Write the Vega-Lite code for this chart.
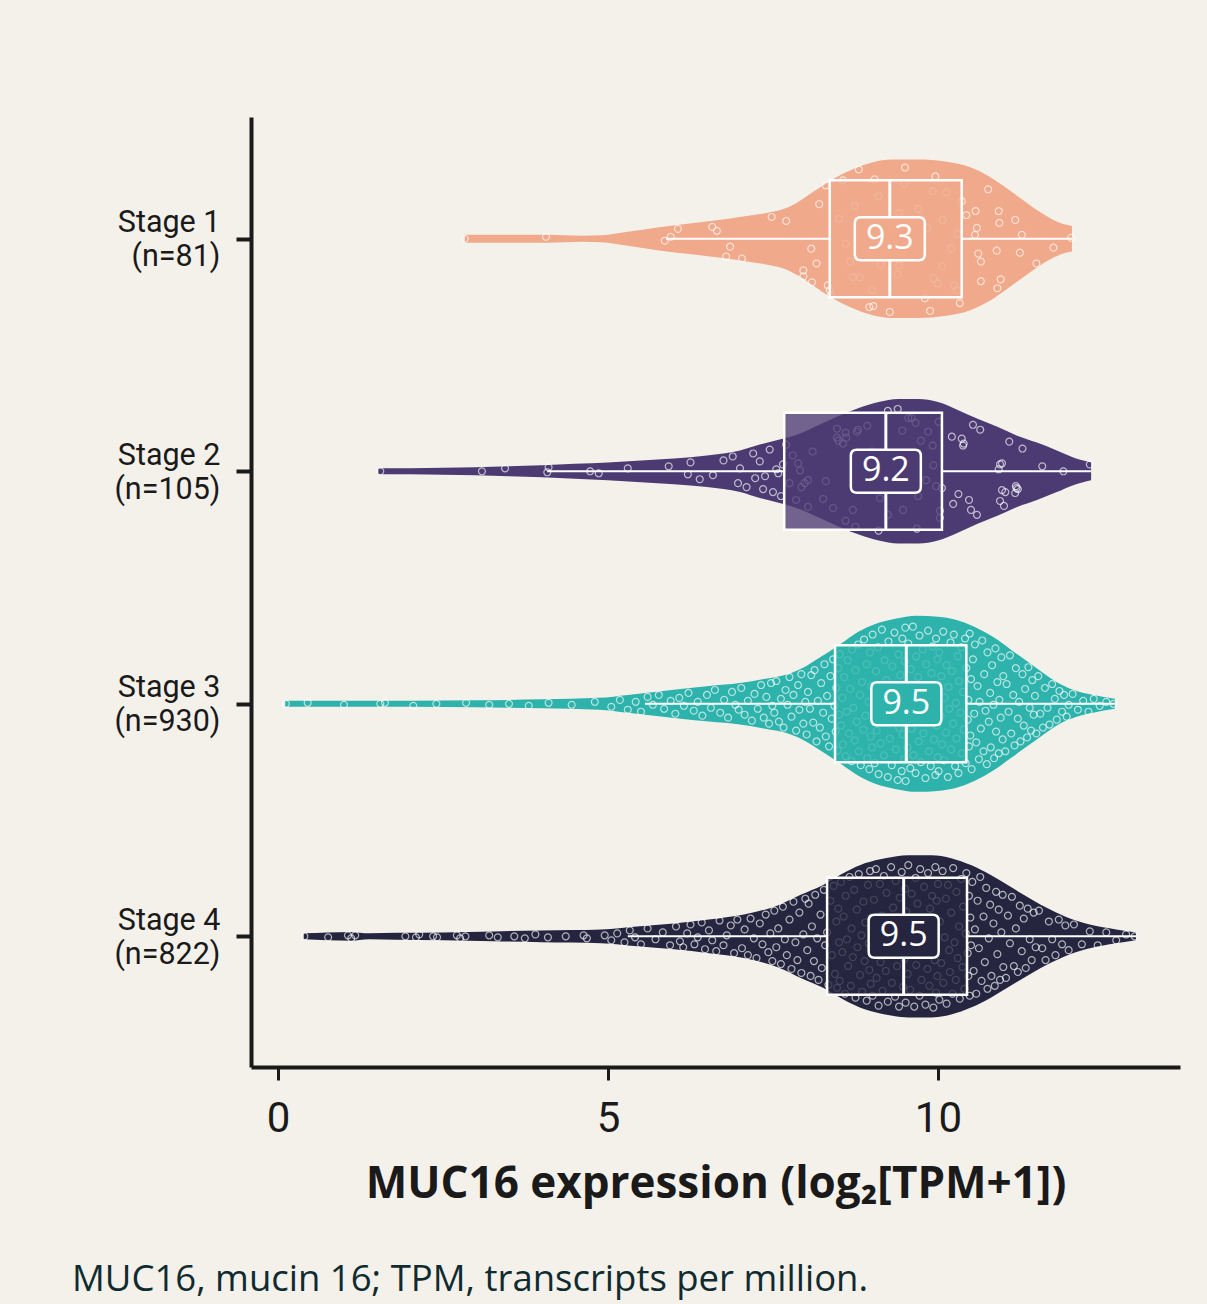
{
"$schema":"https://vega.github.io/schema/vega-lite/v6.json",
"width":929,"height":950,
"autosize":{"type":"none"},
"padding":{"left":251,"top":117,"right":27,"bottom":237},
"background":"#f4f1ea",
"config":{"view":{"stroke":null},"axis":{"grid":false}},
"title":{"text":"MUC16, mucin 16; TPM, transcripts per million.","orient":"bottom","anchor":"start","frame":"group","dx":-179,"offset":56,"font":"Open Sans","fontSize":36.5,"fontWeight":"normal","color":"#0f2b30","baseline":"top"},
"datasets":{
"violin":[
{"s":"Stage 1","x":2.83,"lo":-4,"hi":4},{"s":"Stage 1","x":3.5,"lo":-4,"hi":4},{"s":"Stage 1","x":4.1,"lo":-4,"hi":4},{"s":"Stage 1","x":4.6,"lo":-3,"hi":3},{"s":"Stage 1","x":4.9,"lo":-3.5,"hi":3.5},{"s":"Stage 1","x":5.3,"lo":-7,"hi":7},{"s":"Stage 1","x":5.8,"lo":-12,"hi":12},{"s":"Stage 1","x":6.3,"lo":-16,"hi":16},{"s":"Stage 1","x":6.8,"lo":-20,"hi":20},{"s":"Stage 1","x":7.1,"lo":-23,"hi":23},{"s":"Stage 1","x":7.4,"lo":-26,"hi":26},{"s":"Stage 1","x":7.7,"lo":-31,"hi":31},{"s":"Stage 1","x":7.9,"lo":-38,"hi":38},{"s":"Stage 1","x":8.1,"lo":-47,"hi":47},{"s":"Stage 1","x":8.4,"lo":-60,"hi":60},{"s":"Stage 1","x":8.7,"lo":-70,"hi":70},{"s":"Stage 1","x":9.0,"lo":-77,"hi":77},{"s":"Stage 1","x":9.3,"lo":-80,"hi":80},{"s":"Stage 1","x":9.7,"lo":-80,"hi":80},{"s":"Stage 1","x":10.1,"lo":-78,"hi":78},{"s":"Stage 1","x":10.5,"lo":-72,"hi":72},{"s":"Stage 1","x":10.75,"lo":-64,"hi":64},{"s":"Stage 1","x":11.0,"lo":-53,"hi":53},{"s":"Stage 1","x":11.25,"lo":-41,"hi":41},{"s":"Stage 1","x":11.5,"lo":-29,"hi":29},{"s":"Stage 1","x":11.75,"lo":-19,"hi":19},{"s":"Stage 1","x":11.9,"lo":-15,"hi":15},{"s":"Stage 1","x":12.03,"lo":-13,"hi":13},
{"s":"Stage 2","x":1.52,"lo":232,"hi":238},{"s":"Stage 2","x":2.0,"lo":232,"hi":238},{"s":"Stage 2","x":2.5,"lo":231.5,"hi":238.5},{"s":"Stage 2","x":3.0,"lo":231,"hi":239},{"s":"Stage 2","x":3.5,"lo":230,"hi":240},{"s":"Stage 2","x":4.0,"lo":229,"hi":241},{"s":"Stage 2","x":4.5,"lo":227.5,"hi":242.5},{"s":"Stage 2","x":5.0,"lo":226,"hi":244},{"s":"Stage 2","x":5.5,"lo":224,"hi":246},{"s":"Stage 2","x":6.0,"lo":222,"hi":248},{"s":"Stage 2","x":6.5,"lo":219,"hi":251},{"s":"Stage 2","x":7.0,"lo":214,"hi":256},{"s":"Stage 2","x":7.3,"lo":208,"hi":262},{"s":"Stage 2","x":7.6,"lo":203,"hi":267},{"s":"Stage 2","x":7.9,"lo":197,"hi":273},{"s":"Stage 2","x":8.2,"lo":188,"hi":282},{"s":"Stage 2","x":8.5,"lo":179,"hi":291},{"s":"Stage 2","x":8.8,"lo":171,"hi":299},{"s":"Stage 2","x":9.1,"lo":165,"hi":305},{"s":"Stage 2","x":9.4,"lo":162,"hi":308},{"s":"Stage 2","x":9.7,"lo":162,"hi":308},{"s":"Stage 2","x":10.0,"lo":165,"hi":305},{"s":"Stage 2","x":10.3,"lo":173,"hi":297},{"s":"Stage 2","x":10.6,"lo":182,"hi":288},{"s":"Stage 2","x":10.9,"lo":190,"hi":280},{"s":"Stage 2","x":11.2,"lo":199,"hi":271},{"s":"Stage 2","x":11.5,"lo":206,"hi":264},{"s":"Stage 2","x":11.8,"lo":214,"hi":256},{"s":"Stage 2","x":12.05,"lo":221,"hi":249},{"s":"Stage 2","x":12.32,"lo":226,"hi":244},
{"s":"Stage 3","x":0.11,"lo":467,"hi":473},{"s":"Stage 3","x":1.0,"lo":467,"hi":473},{"s":"Stage 3","x":2.0,"lo":467,"hi":473},{"s":"Stage 3","x":3.0,"lo":466.5,"hi":473.5},{"s":"Stage 3","x":4.0,"lo":465.5,"hi":474.5},{"s":"Stage 3","x":4.86,"lo":464,"hi":476},{"s":"Stage 3","x":5.3,"lo":461,"hi":479},{"s":"Stage 3","x":5.7,"lo":458,"hi":482},{"s":"Stage 3","x":6.1,"lo":455,"hi":485},{"s":"Stage 3","x":6.53,"lo":452,"hi":488},{"s":"Stage 3","x":7.0,"lo":449,"hi":491},{"s":"Stage 3","x":7.36,"lo":445,"hi":495},{"s":"Stage 3","x":7.77,"lo":439,"hi":501},{"s":"Stage 3","x":8.0,"lo":432,"hi":508},{"s":"Stage 3","x":8.19,"lo":424,"hi":516},{"s":"Stage 3","x":8.4,"lo":415,"hi":525},{"s":"Stage 3","x":8.6,"lo":406,"hi":534},{"s":"Stage 3","x":8.8,"lo":397,"hi":543},{"s":"Stage 3","x":9.02,"lo":390,"hi":550},{"s":"Stage 3","x":9.35,"lo":384,"hi":556},{"s":"Stage 3","x":9.68,"lo":381,"hi":559},{"s":"Stage 3","x":10.0,"lo":382,"hi":558},{"s":"Stage 3","x":10.27,"lo":385,"hi":555},{"s":"Stage 3","x":10.55,"lo":392,"hi":548},{"s":"Stage 3","x":10.85,"lo":403,"hi":537},{"s":"Stage 3","x":11.1,"lo":415,"hi":525},{"s":"Stage 3","x":11.35,"lo":427,"hi":513},{"s":"Stage 3","x":11.6,"lo":439,"hi":501},{"s":"Stage 3","x":11.85,"lo":450,"hi":490},{"s":"Stage 3","x":12.1,"lo":457,"hi":483},{"s":"Stage 3","x":12.35,"lo":461,"hi":479},{"s":"Stage 3","x":12.68,"lo":465,"hi":475},
{"s":"Stage 4","x":0.39,"lo":702,"hi":708},{"s":"Stage 4","x":0.75,"lo":701,"hi":709},{"s":"Stage 4","x":1.1,"lo":700.5,"hi":709.5},{"s":"Stage 4","x":1.38,"lo":702,"hi":708},{"s":"Stage 4","x":1.8,"lo":701.5,"hi":708.5},{"s":"Stage 4","x":2.5,"lo":701,"hi":709},{"s":"Stage 4","x":3.27,"lo":700,"hi":710},{"s":"Stage 4","x":4.0,"lo":699,"hi":711},{"s":"Stage 4","x":4.9,"lo":698,"hi":712},{"s":"Stage 4","x":5.44,"lo":695,"hi":715},{"s":"Stage 4","x":6.0,"lo":692,"hi":718},{"s":"Stage 4","x":6.53,"lo":688,"hi":722},{"s":"Stage 4","x":7.06,"lo":683,"hi":727},{"s":"Stage 4","x":7.6,"lo":673,"hi":737},{"s":"Stage 4","x":7.92,"lo":663,"hi":747},{"s":"Stage 4","x":8.26,"lo":653,"hi":757},{"s":"Stage 4","x":8.6,"lo":640,"hi":770},{"s":"Stage 4","x":8.9,"lo":631,"hi":779},{"s":"Stage 4","x":9.2,"lo":626,"hi":784},{"s":"Stage 4","x":9.55,"lo":623,"hi":787},{"s":"Stage 4","x":9.9,"lo":623,"hi":787},{"s":"Stage 4","x":10.2,"lo":626,"hi":784},{"s":"Stage 4","x":10.5,"lo":633,"hi":777},{"s":"Stage 4","x":10.8,"lo":643,"hi":767},{"s":"Stage 4","x":11.1,"lo":655,"hi":755},{"s":"Stage 4","x":11.4,"lo":667,"hi":743},{"s":"Stage 4","x":11.7,"lo":678,"hi":732},{"s":"Stage 4","x":12.0,"lo":687,"hi":723},{"s":"Stage 4","x":12.3,"lo":693,"hi":717},{"s":"Stage 4","x":12.7,"lo":698,"hi":712},{"s":"Stage 4","x":13.0,"lo":701,"hi":709}
],
"box":[
{"s":"Stage 1","c":0,"q1":8.36,"med":9.27,"q3":10.36,"wlo":5.88,"whi":12.03},
{"s":"Stage 2","c":235,"q1":7.67,"med":9.21,"q3":10.06,"wlo":4.08,"whi":12.32},
{"s":"Stage 3","c":470,"q1":8.44,"med":9.52,"q3":10.43,"wlo":5.56,"whi":12.68},
{"s":"Stage 4","c":705,"q1":8.32,"med":9.48,"q3":10.44,"wlo":5.3,"whi":13.0}
],
"pts":[
{"x":2.83,"y":0},{"x":4.06,"y":-2},{"x":5.86,"y":2},{"x":5.95,"y":-2},{"x":6.06,"y":-10},{"x":6.58,"y":-12},{"x":6.65,"y":-8},{"x":6.85,"y":8},{"x":6.79,"y":18},{"x":7.03,"y":20},{"x":7.48,"y":-22},{"x":7.7,"y":-18},{"x":8.08,"y":10},{"x":8.16,"y":25},{"x":7.96,"y":32},{"x":7.96,"y":38},{"x":8.09,"y":44},{"x":8.2,"y":-35},{"x":8.3,"y":-54},{"x":8.38,"y":57},{"x":8.33,"y":47},{"x":8.36,"y":52},{"x":8.56,"y":-59},{"x":8.8,"y":-70},{"x":9.04,"y":-60},{"x":8.74,"y":-33},{"x":9.1,"y":-43},{"x":8.67,"y":23},{"x":8.71,"y":39},{"x":8.81,"y":39},{"x":9.0,"y":52},{"x":8.96,"y":69},{"x":9.02,"y":68},{"x":9.27,"y":74},{"x":9.5,"y":-72},{"x":9.49,"y":-56},{"x":9.41,"y":-26},{"x":9.41,"y":27},{"x":9.39,"y":36},{"x":9.13,"y":26},{"x":9.84,"y":-11},{"x":9.96,"y":-63},{"x":9.92,"y":-48},{"x":10.13,"y":-47},{"x":10.07,"y":-19},{"x":10.06,"y":28},{"x":9.93,"y":40},{"x":9.88,"y":73},{"x":10.24,"y":47},{"x":10.29,"y":52},{"x":10.33,"y":65},{"x":10.36,"y":-38},{"x":10.43,"y":-24},{"x":10.57,"y":-28},{"x":10.59,"y":-11},{"x":10.56,"y":-4},{"x":10.61,"y":15},{"x":10.65,"y":23},{"x":10.65,"y":43},{"x":10.76,"y":-50},{"x":10.92,"y":-28},{"x":10.93,"y":-16},{"x":10.89,"y":12},{"x":10.95,"y":41},{"x":10.9,"y":50},{"x":11.17,"y":-19},{"x":11.27,"y":-4},{"x":11.24,"y":14},{"x":11.49,"y":25},{"x":11.75,"y":9},{"x":12.02,"y":-1},{"x":9.6,"y":5},{"x":8.9,"y":-10},{"x":9.7,"y":-30},{"x":10.2,"y":10},{"x":9.2,"y":-15},{"x":8.6,"y":5},{"x":10.0,"y":45},{"x":9.3,"y":20},{"x":8.5,"y":-20},{"x":9.8,"y":60},{"x":10.3,"y":-5},
{"x":1.55,"y":235},{"x":3.09,"y":235},{"x":3.44,"y":232},{"x":4.08,"y":236},{"x":4.1,"y":231},{"x":4.73,"y":235},{"x":4.86,"y":237},{"x":5.3,"y":232},{"x":5.92,"y":230},{"x":6.21,"y":238},{"x":6.25,"y":226},{"x":6.39,"y":243},{"x":6.59,"y":239},{"x":6.75,"y":224},{"x":6.89,"y":220},{"x":6.97,"y":247},{"x":7.0,"y":232},{"x":7.1,"y":251},{"x":7.2,"y":217},{"x":7.23,"y":242},{"x":7.3,"y":225},{"x":7.45,"y":213},{"x":7.5,"y":256},{"x":7.55,"y":233},{"x":7.62,"y":260},{"x":7.7,"y":208},{"x":7.75,"y":247},{"x":7.8,"y":219},{"x":7.85,"y":264},{"x":7.88,"y":227},
{"x":7.38,"y":240},{"x":7.35,"y":253},{"x":7.58,"y":237},{"x":7.65,"y":228},{"x":7.91,"y":234},{"x":7.93,"y":251},{"x":7.98,"y":247},{"x":8.03,"y":244},{"x":8.03,"y":271},{"x":8.26,"y":263},{"x":8.41,"y":272},{"x":8.47,"y":192},{"x":8.6,"y":196},{"x":8.61,"y":201},{"x":8.47,"y":201},{"x":8.49,"y":204},{"x":8.56,"y":207},{"x":8.71,"y":274},{"x":8.77,"y":195},{"x":8.79,"y":193},{"x":8.75,"y":291},{"x":8.93,"y":189},{"x":9.12,"y":262},{"x":9.24,"y":174},{"x":9.39,"y":172},{"x":9.24,"y":279},{"x":9.46,"y":194},{"x":9.47,"y":274},{"x":9.55,"y":181},{"x":9.6,"y":181},{"x":9.66,"y":186},{"x":9.68,"y":293},{"x":9.74,"y":204},{"x":9.82,"y":244},{"x":9.92,"y":209},{"x":9.93,"y":229},{"x":9.97,"y":250},{"x":10.01,"y":185},{"x":10.06,"y":252},{"x":10.03,"y":275},{"x":10.03,"y":282},{"x":10.21,"y":200},{"x":10.36,"y":202},{"x":10.39,"y":207},{"x":10.38,"y":209},{"x":10.23,"y":268},{"x":10.31,"y":258},{"x":10.47,"y":264},{"x":10.5,"y":274},{"x":10.59,"y":279},{"x":10.53,"y":188},{"x":10.64,"y":193},{"x":10.94,"y":228},{"x":10.97,"y":227},{"x":10.92,"y":233},{"x":10.97,"y":254},{"x":11.02,"y":256},{"x":10.94,"y":265},{"x":11.0,"y":270},{"x":11.08,"y":205},{"x":11.28,"y":212},{"x":11.18,"y":250},{"x":11.21,"y":253},{"x":11.17,"y":257},{"x":11.19,"y":252},{"x":11.58,"y":230},{"x":11.9,"y":235},{"x":12.3,"y":228},{"x":8.1,"y":215},{"x":8.3,"y":245},{"x":8.9,"y":235},{"x":9.0,"y":215},{"x":9.3,"y":250},{"x":9.5,"y":225},{"x":9.7,"y":260},{"x":8.6,"y":285},{"x":9.1,"y":295},{"x":9.85,"y":195},
{"x":0.12,"y":470},{"x":0.45,"y":469},{"x":1.0,"y":471},{"x":1.55,"y":470},{"x":1.62,"y":469},{"x":2.05,"y":472},{"x":2.4,"y":470},{"x":2.85,"y":469},{"x":3.2,"y":471},{"x":3.5,"y":470},{"x":3.8,"y":472},{"x":4.1,"y":469},{"x":4.45,"y":471},{"x":4.8,"y":468},
{"x":5.05,"y":473},{"x":5.18,"y":466},{"x":5.3,"y":476},{"x":5.42,"y":468},{"x":5.5,"y":478},{"x":5.6,"y":463},{"x":5.68,"y":471},{"x":5.77,"y":461},{"x":5.85,"y":475},{"x":5.95,"y":467},
{"x":6.02,"y":480},{"x":6.08,"y":464},{"x":6.15,"y":472},{"x":6.22,"y":459},{"x":6.3,"y":477},{"x":6.36,"y":468},{"x":6.43,"y":482},{"x":6.5,"y":461},{"x":6.56,"y":474},{"x":6.62,"y":456},{"x":6.7,"y":479},{"x":6.76,"y":466},{"x":6.82,"y":484},{"x":6.88,"y":458},{"x":6.93,"y":471},{"x":6.98,"y":476},
{"x":7.02,"y":454},{"x":7.07,"y":481},{"x":7.12,"y":467},{"x":7.18,"y":487},{"x":7.22,"y":460},{"x":7.27,"y":475},{"x":7.32,"y":451},{"x":7.36,"y":484},{"x":7.4,"y":463},{"x":7.44,"y":490},{"x":7.47,"y":449},{"x":7.49,"y":472},
{"x":7.52,"y":479},{"x":7.55,"y":447},{"x":7.59,"y":488},{"x":7.62,"y":465},{"x":7.66,"y":494},{"x":7.69,"y":456},{"x":7.72,"y":471},{"x":7.75,"y":443},{"x":7.78,"y":483},{"x":7.81,"y":461},{"x":7.85,"y":497},{"x":7.88,"y":451},{"x":7.9,"y":476},{"x":7.93,"y":440},{"x":7.96,"y":490},{"x":7.99,"y":468},
{"x":8.01,"y":501},{"x":8.03,"y":458},{"x":8.06,"y":475},{"x":8.08,"y":441},{"x":8.11,"y":489},{"x":8.13,"y":436},{"x":8.16,"y":508},{"x":8.18,"y":467},{"x":8.21,"y":494},{"x":8.23,"y":449},{"x":8.26,"y":479},{"x":8.28,"y":430},{"x":8.3,"y":503},{"x":8.32,"y":462},{"x":8.35,"y":513},{"x":8.37,"y":442},{"x":8.39,"y":485},{"x":8.41,"y":425},{"x":8.43,"y":472},{"x":8.45,"y":498},{"x":8.46,"y":454},{"x":8.48,"y":517},{"x":8.49,"y":434},{"x":8.5,"y":481},
{"x":8.51,"y":420},{"x":8.53,"y":492},{"x":8.55,"y":464},{"x":8.56,"y":511},{"x":8.58,"y":443},{"x":8.6,"y":523},{"x":8.62,"y":478},{"x":8.63,"y":426},{"x":8.65,"y":500},{"x":8.67,"y":455},{"x":8.69,"y":528},{"x":8.7,"y":415},{"x":8.72,"y":474},{"x":8.74,"y":507},{"x":8.75,"y":436},{"x":8.77,"y":488},{"x":8.79,"y":410},{"x":8.8,"y":518},{"x":8.82,"y":461},{"x":8.83,"y":532},{"x":8.85,"y":448},{"x":8.87,"y":496},{"x":8.88,"y":405},{"x":8.9,"y":482},{"x":8.92,"y":430},{"x":8.93,"y":525},{"x":8.95,"y":468},{"x":8.96,"y":536},{"x":8.97,"y":418},{"x":8.98,"y":503},{"x":8.99,"y":452},{"x":9.0,"y":514},
{"x":9.01,"y":400},{"x":9.03,"y":480},{"x":9.04,"y":530},{"x":9.06,"y":437},{"x":9.07,"y":497},{"x":9.09,"y":413},{"x":9.1,"y":541},{"x":9.12,"y":458},{"x":9.13,"y":510},{"x":9.15,"y":395},{"x":9.16,"y":473},{"x":9.18,"y":522},{"x":9.19,"y":426},{"x":9.21,"y":489},{"x":9.22,"y":446},{"x":9.24,"y":544},{"x":9.25,"y":407},{"x":9.27,"y":505},{"x":9.28,"y":465},{"x":9.3,"y":532},{"x":9.31,"y":432},{"x":9.33,"y":483},{"x":9.34,"y":398},{"x":9.36,"y":516},{"x":9.37,"y":453},{"x":9.39,"y":547},{"x":9.4,"y":420},{"x":9.41,"y":494},{"x":9.43,"y":441},{"x":9.44,"y":476},{"x":9.45,"y":538},{"x":9.46,"y":404},{"x":9.47,"y":501},{"x":9.48,"y":461},{"x":9.49,"y":526},{"x":9.5,"y":427},{"x":9.495,"y":486},{"x":9.505,"y":393},
{"x":9.51,"y":548},{"x":9.52,"y":450},{"x":9.54,"y":514},{"x":9.55,"y":409},{"x":9.56,"y":477},{"x":9.58,"y":535},{"x":9.59,"y":435},{"x":9.6,"y":495},{"x":9.62,"y":392},{"x":9.63,"y":522},{"x":9.64,"y":462},{"x":9.66,"y":540},{"x":9.67,"y":422},{"x":9.68,"y":484},{"x":9.7,"y":443},{"x":9.71,"y":508},{"x":9.72,"y":401},{"x":9.74,"y":529},{"x":9.75,"y":471},{"x":9.77,"y":415},{"x":9.78,"y":500},{"x":9.79,"y":456},{"x":9.81,"y":545},{"x":9.82,"y":430},{"x":9.83,"y":489},{"x":9.85,"y":396},{"x":9.86,"y":518},{"x":9.87,"y":467},{"x":9.89,"y":533},{"x":9.9,"y":439},{"x":9.91,"y":479},{"x":9.92,"y":412},{"x":9.94,"y":506},{"x":9.95,"y":451},{"x":9.96,"y":542},{"x":9.97,"y":404},{"x":9.98,"y":492},{"x":9.99,"y":425},{"x":9.995,"y":524},{"x":10.0,"y":460},
{"x":10.01,"y":538},{"x":10.02,"y":418},{"x":10.04,"y":482},{"x":10.05,"y":442},{"x":10.06,"y":511},{"x":10.08,"y":397},{"x":10.09,"y":527},{"x":10.1,"y":464},{"x":10.12,"y":499},{"x":10.13,"y":431},{"x":10.15,"y":544},{"x":10.16,"y":453},{"x":10.17,"y":475},{"x":10.19,"y":408},{"x":10.2,"y":516},{"x":10.21,"y":437},{"x":10.23,"y":490},{"x":10.24,"y":400},{"x":10.26,"y":533},{"x":10.27,"y":469},{"x":10.28,"y":505},{"x":10.3,"y":422},{"x":10.31,"y":540},{"x":10.32,"y":447},{"x":10.34,"y":479},{"x":10.35,"y":413},{"x":10.36,"y":520},{"x":10.38,"y":458},{"x":10.39,"y":496},{"x":10.41,"y":404},{"x":10.42,"y":530},{"x":10.43,"y":434},{"x":10.45,"y":486},{"x":10.46,"y":466},{"x":10.47,"y":513},{"x":10.48,"y":399},{"x":10.49,"y":502},{"x":10.5,"y":445},
{"x":10.51,"y":536},{"x":10.53,"y":425},{"x":10.55,"y":480},{"x":10.56,"y":410},{"x":10.58,"y":509},{"x":10.6,"y":452},{"x":10.62,"y":526},{"x":10.63,"y":468},{"x":10.65,"y":495},{"x":10.67,"y":406},{"x":10.69,"y":518},{"x":10.7,"y":440},{"x":10.72,"y":477},{"x":10.74,"y":531},{"x":10.75,"y":418},{"x":10.77,"y":488},{"x":10.79,"y":459},{"x":10.8,"y":514},{"x":10.82,"y":431},{"x":10.84,"y":471},{"x":10.85,"y":525},{"x":10.87,"y":414},{"x":10.88,"y":498},{"x":10.9,"y":448},{"x":10.92,"y":520},{"x":10.93,"y":466},{"x":10.95,"y":484},{"x":10.96,"y":423},{"x":10.98,"y":506},{"x":10.99,"y":442},
{"x":11.02,"y":518},{"x":11.04,"y":450},{"x":11.07,"y":478},{"x":11.09,"y":421},{"x":11.11,"y":500},{"x":11.14,"y":461},{"x":11.16,"y":512},{"x":11.18,"y":434},{"x":11.21,"y":485},{"x":11.23,"y":468},{"x":11.25,"y":508},{"x":11.28,"y":440},{"x":11.3,"y":492},{"x":11.32,"y":455},{"x":11.35,"y":504},{"x":11.37,"y":433},{"x":11.39,"y":474},{"x":11.41,"y":497},{"x":11.43,"y":446},{"x":11.45,"y":481},{"x":11.47,"y":462},{"x":11.49,"y":500},
{"x":11.52,"y":442},{"x":11.55,"y":480},{"x":11.59,"y":494},{"x":11.62,"y":454},{"x":11.66,"y":474},{"x":11.69,"y":491},{"x":11.73,"y":450},{"x":11.77,"y":465},{"x":11.8,"y":486},{"x":11.84,"y":457},{"x":11.88,"y":478},{"x":11.91,"y":461},{"x":11.95,"y":483},{"x":11.98,"y":471},
{"x":12.04,"y":460},{"x":12.12,"y":476},{"x":12.2,"y":467},{"x":12.28,"y":478},{"x":12.36,"y":465},{"x":12.45,"y":472},{"x":12.55,"y":468},{"x":12.66,"y":470},
{"x":0.4,"y":705},{"x":0.76,"y":706},{"x":1.06,"y":704},{"x":1.11,"y":707},{"x":1.17,"y":704},{"x":1.93,"y":705},{"x":2.09,"y":706},{"x":2.14,"y":703},{"x":2.35,"y":705},{"x":2.41,"y":706},{"x":2.71,"y":704},{"x":2.76,"y":707},{"x":2.84,"y":705},{"x":3.2,"y":704},{"x":3.33,"y":706},{"x":3.58,"y":705},{"x":3.74,"y":707},{"x":3.9,"y":703},{"x":4.09,"y":706},{"x":4.36,"y":705},{"x":4.63,"y":704},{"x":4.68,"y":707},{"x":4.95,"y":704},
{"x":5.05,"y":709},{"x":5.14,"y":702},{"x":5.25,"y":711},{"x":5.33,"y":699},{"x":5.41,"y":706},{"x":5.5,"y":713},{"x":5.6,"y":697},{"x":5.72,"y":708},{"x":5.83,"y":701},{"x":5.94,"y":714},
{"x":6.03,"y":695},{"x":6.09,"y":710},{"x":6.14,"y":716},{"x":6.2,"y":702},{"x":6.25,"y":693},{"x":6.31,"y":713},{"x":6.36,"y":706},{"x":6.42,"y":691},{"x":6.47,"y":718},{"x":6.53,"y":699},{"x":6.58,"y":709},{"x":6.64,"y":720},{"x":6.69,"y":689},{"x":6.75,"y":714},{"x":6.8,"y":704},{"x":6.86,"y":694},{"x":6.91,"y":722},{"x":6.96,"y":688},
{"x":7.03,"y":717},{"x":7.07,"y":698},{"x":7.12,"y":724},{"x":7.16,"y":687},{"x":7.21,"y":707},{"x":7.25,"y":727},{"x":7.3,"y":692},{"x":7.34,"y":713},{"x":7.39,"y":683},{"x":7.43,"y":721},{"x":7.46,"y":702},{"x":7.49,"y":730},
{"x":7.52,"y":679},{"x":7.55,"y":716},{"x":7.58,"y":697},{"x":7.62,"y":733},{"x":7.65,"y":675},{"x":7.68,"y":708},{"x":7.71,"y":724},{"x":7.75,"y":688},{"x":7.78,"y":738},{"x":7.81,"y":670},{"x":7.84,"y":711},{"x":7.87,"y":729},{"x":7.9,"y":681},{"x":7.93,"y":742},{"x":7.96,"y":703},{"x":7.99,"y":667},
{"x":8.02,"y":719},{"x":8.04,"y":672},{"x":8.07,"y":745},{"x":8.09,"y":695},{"x":8.12,"y":730},{"x":8.14,"y":663},{"x":8.17,"y":707},{"x":8.19,"y":749},{"x":8.22,"y":683},{"x":8.24,"y":737},{"x":8.27,"y":658},{"x":8.29,"y":714},{"x":8.32,"y":701},{"x":8.34,"y":754},{"x":8.37,"y":669},{"x":8.39,"y":724},{"x":8.42,"y":654},{"x":8.44,"y":743},{"x":8.46,"y":690},{"x":8.47,"y":757},{"x":8.49,"y":677},{"x":8.5,"y":711},
{"x":8.51,"y":750},{"x":8.53,"y":650},{"x":8.55,"y":721},{"x":8.57,"y":685},{"x":8.59,"y":763},{"x":8.6,"y":664},{"x":8.62,"y":708},{"x":8.64,"y":735},{"x":8.66,"y":645},{"x":8.68,"y":755},{"x":8.69,"y":697},{"x":8.71,"y":726},{"x":8.73,"y":658},{"x":8.75,"y":767},{"x":8.77,"y":678},{"x":8.78,"y":716},{"x":8.8,"y":642},{"x":8.82,"y":744},{"x":8.84,"y":704},{"x":8.85,"y":761},{"x":8.87,"y":670},{"x":8.89,"y":730},{"x":8.9,"y":691},{"x":8.92,"y":770},{"x":8.94,"y":653},{"x":8.95,"y":712},{"x":8.96,"y":739},{"x":8.97,"y":639},{"x":8.98,"y":753},{"x":8.99,"y":686},
{"x":9.01,"y":765},{"x":9.03,"y":668},{"x":9.04,"y":720},{"x":9.06,"y":637},{"x":9.07,"y":747},{"x":9.09,"y":701},{"x":9.1,"y":775},{"x":9.12,"y":652},{"x":9.13,"y":731},{"x":9.15,"y":684},{"x":9.16,"y":760},{"x":9.18,"y":644},{"x":9.19,"y":713},{"x":9.21,"y":740},{"x":9.22,"y":661},{"x":9.24,"y":771},{"x":9.26,"y":694},{"x":9.27,"y":724},{"x":9.29,"y":635},{"x":9.3,"y":752},{"x":9.32,"y":676},{"x":9.33,"y":707},{"x":9.35,"y":766},{"x":9.36,"y":649},{"x":9.38,"y":735},{"x":9.39,"y":689},{"x":9.41,"y":776},{"x":9.42,"y":666},{"x":9.44,"y":717},{"x":9.45,"y":640},{"x":9.47,"y":756},{"x":9.48,"y":698},{"x":9.49,"y":728},{"x":9.5,"y":657},
{"x":9.51,"y":772},{"x":9.52,"y":680},{"x":9.54,"y":743},{"x":9.55,"y":633},{"x":9.57,"y":710},{"x":9.58,"y":759},{"x":9.6,"y":662},{"x":9.61,"y":723},{"x":9.63,"y":693},{"x":9.64,"y":776},{"x":9.66,"y":646},{"x":9.67,"y":734},{"x":9.69,"y":672},{"x":9.7,"y":705},{"x":9.72,"y":765},{"x":9.73,"y":637},{"x":9.75,"y":749},{"x":9.76,"y":687},{"x":9.78,"y":718},{"x":9.79,"y":655},{"x":9.81,"y":774},{"x":9.82,"y":701},{"x":9.84,"y":738},{"x":9.85,"y":641},{"x":9.87,"y":755},{"x":9.88,"y":677},{"x":9.9,"y":714},{"x":9.91,"y":664},{"x":9.93,"y":777},{"x":9.94,"y":696},{"x":9.95,"y":729},{"x":9.96,"y":635},{"x":9.97,"y":762},{"x":9.98,"y":669},{"x":9.99,"y":745},{"x":10.0,"y":652},
{"x":10.02,"y":769},{"x":10.03,"y":690},{"x":10.05,"y":732},{"x":10.07,"y":639},{"x":10.08,"y":752},{"x":10.1,"y":706},{"x":10.12,"y":667},{"x":10.13,"y":773},{"x":10.15,"y":653},{"x":10.17,"y":719},{"x":10.18,"y":741},{"x":10.2,"y":681},{"x":10.22,"y":763},{"x":10.23,"y":636},{"x":10.25,"y":711},{"x":10.27,"y":749},{"x":10.28,"y":660},{"x":10.3,"y":727},{"x":10.32,"y":695},{"x":10.33,"y":768},{"x":10.35,"y":647},{"x":10.37,"y":736},{"x":10.38,"y":675},{"x":10.4,"y":758},{"x":10.42,"y":702},{"x":10.43,"y":641},{"x":10.45,"y":722},{"x":10.46,"y":745},{"x":10.47,"y":664},{"x":10.48,"y":765},{"x":10.49,"y":686},{"x":10.5,"y":714},
{"x":10.52,"y":650},{"x":10.54,"y":740},{"x":10.56,"y":698},{"x":10.58,"y":763},{"x":10.6,"y":669},{"x":10.62,"y":717},{"x":10.64,"y":645},{"x":10.66,"y":750},{"x":10.69,"y":685},{"x":10.71,"y":731},{"x":10.73,"y":656},{"x":10.75,"y":758},{"x":10.77,"y":707},{"x":10.79,"y":673},{"x":10.81,"y":745},{"x":10.84,"y":692},{"x":10.86,"y":755},{"x":10.88,"y":660},{"x":10.9,"y":723},{"x":10.92,"y":678},{"x":10.94,"y":749},{"x":10.96,"y":701},{"x":10.98,"y":663},{"x":10.99,"y":736},
{"x":11.03,"y":747},{"x":11.06,"y":684},{"x":11.09,"y":712},{"x":11.12,"y":665},{"x":11.15,"y":735},{"x":11.18,"y":697},{"x":11.21,"y":741},{"x":11.24,"y":674},{"x":11.27,"y":720},{"x":11.3,"y":687},{"x":11.33,"y":737},{"x":11.36,"y":677},{"x":11.39,"y":708},{"x":11.42,"y":729},{"x":11.45,"y":681},{"x":11.48,"y":716},
{"x":11.53,"y":679},{"x":11.58,"y":717},{"x":11.63,"y":729},{"x":11.68,"y":690},{"x":11.73,"y":708},{"x":11.78,"y":724},{"x":11.83,"y":688},{"x":11.88,"y":713},{"x":11.93,"y":694},{"x":11.98,"y":719},
{"x":12.06,"y":693},{"x":12.18,"y":713},{"x":12.3,"y":700},{"x":12.42,"y":714},{"x":12.55,"y":701},{"x":12.7,"y":709},{"x":12.85,"y":703},{"x":12.98,"y":705}
]
},
"layer":[
{"data":{"name":"violin"},
 "mark":{"type":"area","interpolate":"monotone","opacity":1},
 "encoding":{
  "x":{"field":"x","type":"quantitative","scale":{"domain":[-0.409,13.667],"nice":false,"zero":false},
   "axis":{"values":[0,5,10],"format":"d","title":"MUC16 expression (log₂[TPM+1])","titleFont":"Open Sans","titleFontSize":44,"titleFontWeight":"bold","titleColor":"#1a1a1a","titlePadding":23,"labelFont":"Roboto","labelFontSize":42,"labelColor":"#1a1a1a","labelPadding":18,"labelFlush":false,"tickSize":13,"tickWidth":3,"tickColor":"#1a1a1a","domainColor":"#1a1a1a","domainWidth":4,"grid":false}},
  "y":{"field":"lo","type":"quantitative","stack":null,"scale":{"domain":[-118,832],"reverse":true,"nice":false,"zero":false},
   "axis":{"values":[0,235,470,705],"title":null,"labelExpr":"datum.value == 0 ? ['Stage 1','(n=81)'] : datum.value == 235 ? ['Stage 2','(n=105)'] : datum.value == 470 ? ['Stage 3','(n=930)'] : ['Stage 4','(n=822)']","labelFont":"Roboto","labelFontSize":30.5,"labelColor":"#1a1a1a","labelAlign":"right","labelBaseline":"middle","labelLineHeight":34,"labelOffset":-16,"labelPadding":16,"tickSize":15,"tickWidth":4,"tickColor":"#1a1a1a","domainColor":"#1a1a1a","domainWidth":4,"grid":false}},
  "y2":{"field":"hi"},
  "color":{"field":"s","type":"nominal","scale":{"domain":["Stage 1","Stage 2","Stage 3","Stage 4"],"range":["#f0a98a","#4b3b72","#2db3ab","#252540"]},"legend":null}
 }},
{"data":{"name":"pts"},
 "mark":{"type":"point","filled":false,"color":"white","strokeWidth":1.2,"size":48,"opacity":0.65},
 "encoding":{"x":{"field":"x","type":"quantitative"},"y":{"field":"y","type":"quantitative"}}},
{"data":{"name":"box"},
 "mark":{"type":"rule","color":"white","strokeWidth":2},
 "encoding":{"x":{"field":"wlo","type":"quantitative"},"x2":{"field":"q1"},"y":{"field":"c","type":"quantitative"}}},
{"data":{"name":"box"},
 "mark":{"type":"rule","color":"white","strokeWidth":2},
 "encoding":{"x":{"field":"q3","type":"quantitative"},"x2":{"field":"whi"},"y":{"field":"c","type":"quantitative"}}},
{"data":{"name":"box"},
 "mark":{"type":"bar","orient":"horizontal","height":117,"stroke":"white","strokeWidth":2.5,"fillOpacity":0.78},
 "encoding":{"x":{"field":"q1","type":"quantitative"},"x2":{"field":"q3"},"y":{"field":"c","type":"quantitative"},
  "color":{"field":"s","type":"nominal","scale":{"domain":["Stage 1","Stage 2","Stage 3","Stage 4"],"range":["#f0a98a","#4b3b72","#2db3ab","#252540"]},"legend":null}}},
{"data":{"name":"box"},
 "mark":{"type":"tick","orient":"vertical","size":117,"thickness":3,"color":"white","opacity":1},
 "encoding":{"x":{"field":"med","type":"quantitative"},"y":{"field":"c","type":"quantitative"}}},
{"data":{"name":"box"},
 "mark":{"type":"point","shape":"M -0.829,-0.614 L 0.829,-0.614 Q 1,-0.614 1,-0.443 L 1,0.443 Q 1,0.614 0.829,0.614 L -0.829,0.614 Q -1,0.614 -1,0.443 L -1,-0.443 Q -1,-0.614 -0.829,-0.614 Z","size":4900,"filled":true,"stroke":"white","strokeWidth":2.5,"opacity":1},
 "encoding":{"x":{"field":"med","type":"quantitative"},"y":{"field":"c","type":"quantitative"},
  "color":{"field":"s","type":"nominal","scale":{"domain":["Stage 1","Stage 2","Stage 3","Stage 4"],"range":["#f0a98a","#4b3b72","#2db3ab","#252540"]},"legend":null}}},
{"data":{"name":"box"},
 "mark":{"type":"text","color":"white","font":"Open Sans","fontSize":34,"align":"center","baseline":"middle"},
 "encoding":{"x":{"field":"med","type":"quantitative"},"y":{"field":"c","type":"quantitative"},"text":{"field":"med","type":"quantitative","format":".1f"}}}
]
}
